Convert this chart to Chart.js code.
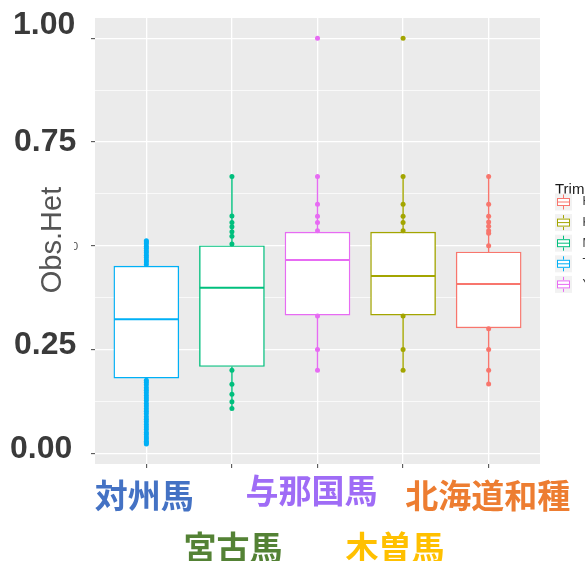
<!DOCTYPE html>
<html><head><meta charset="utf-8">
<script src="https://cdn.jsdelivr.net/npm/chart.js@4"></script>
<style>html,body{margin:0;padding:0;background:#fff;overflow:hidden}</style>
</head><body>
<canvas id="c" width="585" height="561"></canvas>
<script>
// Observed heterozygosity per native Japanese horse breed
const breeds = ['対州馬', '宮古馬', '与那国馬', '木曽馬', '北海道和種'];
const boxColors = ['#00B0F6', '#00BF7D', '#E76BF3', '#A3A500', '#F8766D'];
const labelColors = ['#4472C4', '#548235', '#9F6CF6', '#FFC000', '#ED7D31'];

const q1 = [0.181, 0.209, 0.333, 0.333, 0.302];
const median = [0.323, 0.399, 0.466, 0.427, 0.408];
const q3 = [0.451, 0.500, 0.533, 0.533, 0.485];
const whiskerLow = [0.022, 0.108, 0.200, 0.200, 0.167];
const whiskerHigh = [0.512, 0.667, 0.667, 0.667, 0.667];

// individual loci drawn outside the boxes
const lociTaishu = [0.455, 0.461, 0.466, 0.472, 0.477, 0.483, 0.488, 0.494, 0.499, 0.505, 0.509, 0.512,
  0.176, 0.171, 0.165, 0.158, 0.152, 0.146, 0.139, 0.133, 0.127, 0.120, 0.114, 0.107, 0.101, 0.095,
  0.088, 0.082, 0.076, 0.069, 0.063, 0.057, 0.050, 0.045, 0.039, 0.034, 0.029, 0.025, 0.022];
const lociMiyako = [0.667, 0.572, 0.556, 0.546, 0.534, 0.523, 0.504, 0.200, 0.166, 0.142, 0.124, 0.108];
const lociYonaguni = [1.000, 0.667, 0.600, 0.571, 0.556, 0.536, 0.331, 0.250, 0.200];
const lociKiso = [1.000, 0.667, 0.600, 0.571, 0.556, 0.536, 0.331, 0.250, 0.200];
const lociHokkaido = [0.667, 0.600, 0.571, 0.557, 0.547, 0.536, 0.530, 0.500, 0.300, 0.250, 0.200, 0.167];
const loci = [lociTaishu, lociMiyako, lociYonaguni, lociKiso, lociHokkaido];

const yTickValues = [1.00, 0.75, 0.25, 0.00];
const yTickLabels = ['1.00', '0.75', '0.25', '0.00'];
const yGrid = [0, 0.125, 0.25, 0.375, 0.5, 0.625, 0.75, 0.875, 1];
const xGrid = [1, 2, 3, 4, 5];

const legendTitle = 'Trimmed';
const legendNames = ['Hokkaido', 'Kiso', 'Miyako', 'Taishu', 'Yonaguni'];
const legendColors = ['#F8766D', '#A3A500', '#00BF7D', '#00B0F6', '#E76BF3'];

const datasets = [];
breeds.forEach((b, i) => {
  const x = i + 1;
  datasets.push({
    type: 'line', order: 4, borderColor: boxColors[i], borderWidth: 1.4,
    pointRadius: 0, spanGaps: false,
    data: [{x, y: whiskerLow[i]}, {x, y: q1[i]}, {x, y: null}, {x, y: q3[i]}, {x, y: whiskerHigh[i]}]
  });
  datasets.push({
    type: 'bar', order: 3, backgroundColor: '#FFFFFF', borderColor: boxColors[i],
    borderWidth: 1.4, borderSkipped: false, barThickness: 65, grouped: false,
    data: [{x, y: [q1[i], q3[i]]}]
  });
  datasets.push({
    type: 'line', order: 2, borderColor: boxColors[i], borderWidth: 2,
    pointRadius: 0,
    data: [{x: x - 0.375, y: median[i]}, {x: x + 0.375, y: median[i]}]
  });
  datasets.push({
    type: 'scatter', order: 1, backgroundColor: boxColors[i], borderWidth: 0,
    pointRadius: 2.5,
    data: loci[i].map(v => ({x, y: v}))
  });
});

const isMajor = v => Math.abs(v * 4 - Math.round(v * 4)) < 1e-6;

const decor = {
  id: 'decor',
  beforeDraw(chart) {
    const {ctx, chartArea: a} = chart;
    ctx.save();
    ctx.fillStyle = '#FFFFFF';
    ctx.fillRect(0, 0, chart.width, chart.height);
    ctx.fillStyle = '#EBEBEB';
    ctx.fillRect(a.left, a.top, a.right - a.left, a.bottom - a.top);
    ctx.restore();
  },
  afterDraw(chart) {
    const {ctx} = chart;
    const ys = chart.scales.y, xs = chart.scales.x;
    ctx.save();

    // remnant of the small 0.50 tick label
    ctx.save();
    ctx.beginPath(); ctx.rect(74, 0, 12, chart.height); ctx.clip();
    ctx.fillStyle = '#4D4D4D';
    ctx.font = '11px "Liberation Sans", Arial, sans-serif';
    ctx.textAlign = 'right'; ctx.textBaseline = 'middle';
    ctx.fillText('0.50', 78, ys.getPixelForValue(0.5) + 1);
    ctx.restore();

    // enlarged y tick labels
    const nudgeY = [-13, 0, -4, -4];
    const leftX = [13, 14, 14, 10];
    ctx.fillStyle = '#3A3A3A';
    ctx.font = 'bold 32px "Liberation Sans", Arial, sans-serif';
    ctx.textAlign = 'left'; ctx.textBaseline = 'middle';
    yTickValues.forEach((v, k) => {
      ctx.fillText(yTickLabels[k], leftX[k], ys.getPixelForValue(v) + nudgeY[k]);
    });

    // y axis title
    ctx.save();
    ctx.translate(53, 240);
    ctx.rotate(-Math.PI / 2);
    ctx.fillStyle = '#555555';
    ctx.font = '29px "Liberation Sans", Arial, sans-serif';
    ctx.textAlign = 'center'; ctx.textBaseline = 'middle';
    ctx.fillText('Obs.Het', 0, 0);
    ctx.restore();

    // breed names under the axis, in two staggered rows
    const place = [[-2, 495], [1, 547], [-6, 490], [-8, 547], [-1, 495]];
    ctx.font = 'bold 33px "Noto Sans CJK JP", sans-serif';
    ctx.textAlign = 'center'; ctx.textBaseline = 'middle';
    breeds.forEach((b, i) => {
      ctx.fillStyle = labelColors[i];
      ctx.fillText(b, xs.getPixelForValue(i + 1) + place[i][0], place[i][1]);
    });

    // legend (runs past the right edge)
    ctx.fillStyle = '#1A1A1A';
    ctx.font = '15px "Liberation Sans", Arial, sans-serif';
    ctx.textAlign = 'left'; ctx.textBaseline = 'middle';
    ctx.fillText(legendTitle, 555, 190);
    legendNames.forEach((n, k) => {
      const cy = 202 + k * 20.6;
      const kx = 555, kw = 17, kh = 17;
      ctx.fillStyle = '#F2F2F2';
      ctx.fillRect(kx, cy - kh / 2, kw, kh);
      ctx.strokeStyle = legendColors[k];
      ctx.lineWidth = 1;
      ctx.beginPath();
      ctx.moveTo(kx + kw / 2, cy - kh / 2 + 1); ctx.lineTo(kx + kw / 2, cy - 4);
      ctx.moveTo(kx + kw / 2, cy + 4); ctx.lineTo(kx + kw / 2, cy + kh / 2 - 1);
      ctx.stroke();
      ctx.fillStyle = '#FFFFFF';
      ctx.fillRect(kx + 2, cy - 4, kw - 4, 8);
      ctx.strokeRect(kx + 2.5, cy - 3.5, kw - 5, 7);
      ctx.beginPath();
      ctx.moveTo(kx + 2.5, cy); ctx.lineTo(kx + kw - 2.5, cy);
      ctx.stroke();
      ctx.fillStyle = '#333333';
      ctx.font = '12px "Liberation Sans", Arial, sans-serif';
      ctx.fillText(n, 582.5, cy);
    });
    ctx.restore();
  }
};

new Chart(document.getElementById('c'), {
  type: 'scatter',
  data: {datasets},
  options: {
    responsive: false,
    animation: false,
    events: [],
    layout: {padding: {left: 95, right: 45, top: 18, bottom: 97}},
    plugins: {legend: {display: false}, tooltip: {enabled: false}, title: {display: false}},
    scales: {
      x: {
        type: 'linear', min: 0.4, max: 5.6, offset: false,
        afterBuildTicks: s => { s.ticks = xGrid.map(v => ({value: v})); },
        afterFit: s => { s.height = 0; },
        ticks: {display: false},
        border: {display: false},
        grid: {color: '#FFFFFF', lineWidth: 1.3, tickColor: '#444444', tickLength: 4, tickWidth: 1, offset: false}
      },
      y: {
        type: 'linear', min: -0.026, max: 1.049,
        afterBuildTicks: s => { s.ticks = yGrid.map(v => ({value: v})); },
        afterFit: s => { s.width = 0; },
        ticks: {display: false},
        border: {display: false},
        grid: {
          color: '#FFFFFF',
          lineWidth: c => isMajor(c.tick.value) ? 1.3 : 0.7,
          tickColor: c => isMajor(c.tick.value) ? '#444444' : 'rgba(0,0,0,0)',
          tickLength: 4, tickWidth: 1
        }
      }
    }
  },
  plugins: [decor]
});
</script>
</body></html>
